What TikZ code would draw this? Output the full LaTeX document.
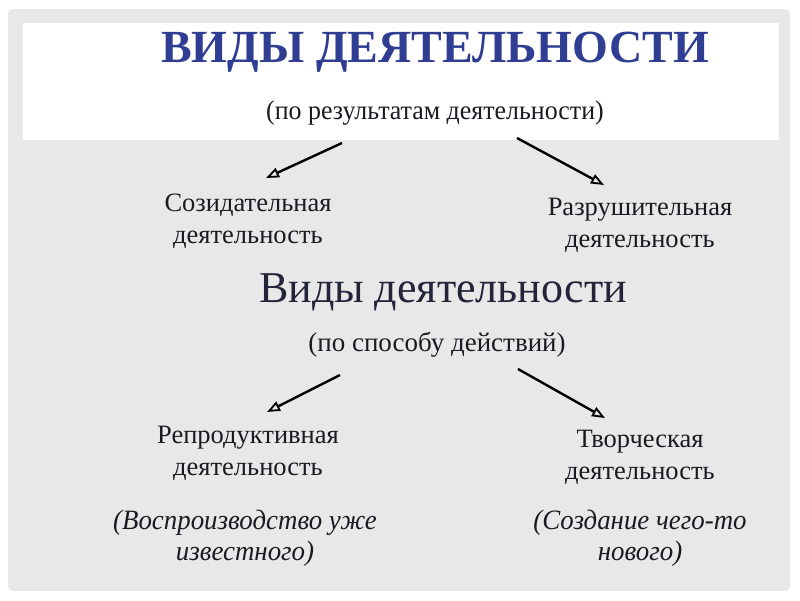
\documentclass[tikz,border=0pt]{standalone}
\usepackage{fontspec}
\setmainfont{Liberation Serif}
\newfontfamily\timesf{Liberation Serif}
\usetikzlibrary{arrows.meta,calc}
\definecolor{slidegrey}{HTML}{E8E8E8}
\definecolor{titleblue}{HTML}{2F3E93}
\definecolor{inkdark}{HTML}{1A1A22}
\definecolor{headdark}{HTML}{23233A}

\begin{document}
\begin{tikzpicture}[x=1pt,y=-1pt,>={Triangle[open,length=13pt,width=10pt,line width=1.8pt]},
	arr/.style={->,line width=2.4pt,black},
	kind/.style={align=center,text=inkdark,font=\timesf\fontsize{26.5}{32}\selectfont},
	note/.style={align=center,text=inkdark,font=\timesf\fontsize{28}{31}\selectfont\itshape},
	sub/.style={text=inkdark,font=\timesf\fontsize{27}{30}\selectfont}]
		\useasboundingbox (0,0) rectangle (800,600);
		\fill[white] (0,0) rectangle (800,600);
		\fill[slidegrey,rounded corners=5pt] (8,9) rectangle (790,591);
		\fill[white] (23,23) rectangle (779,140);
		
		\node[text=titleblue,font=\timesf\fontsize{46}{50}\selectfont\bfseries]
		(title) at (435,52) 	{ВИДЫ ДЕЯТЕЛЬНОСТИ};
		\node[sub]
		(result) at (435,113) 	{\scalebox{0.96}[1]{(по результатам деятельности)}};
		\node[kind]
		(create) at (248,221) 	{Созидательная\\деятельность};
		\node[kind]
		(destroy) at (640,225) 	{Разрушительная\\деятельность};
		\node[text=headdark,font=\timesf\fontsize{44}{48}\selectfont]
		(kinds) at (443,292) 	{Виды деятельности};
		\node[sub]
		(way) at (437,345) 	{(по способу действий)};
		\node[kind]
		(repro) at (248,453) 	{Репродуктивная\\деятельность};
		\node[kind]
		(creative) at (640,457) 	{Творческая\\деятельность};
		\node[note]
		(repronote) at (245,538) 	{\scalebox{0.96}[1]{(Воспроизводство уже}\\\scalebox{0.96}[1]{известного)}};
		\node[note]
		(creativenote) at (640,538) 	{\scalebox{0.96}[1]{(Создание чего-то}\\\scalebox{0.96}[1]{нового)}};
		
		\draw[arr] ($(result)+(-93,30)$) -- ($(create)+(18,-43)$);
		\draw[arr] ($(result)+(82,25)$) -- ($(destroy)+(-36,-40)$);
		\draw[arr] ($(way)+(-97,30)$) -- ($(repro)+(19,-41)$);
		\draw[arr] ($(way)+(81,24)$) -- ($(creative)+(-35,-39)$);
		\end{tikzpicture}
\end{document}
